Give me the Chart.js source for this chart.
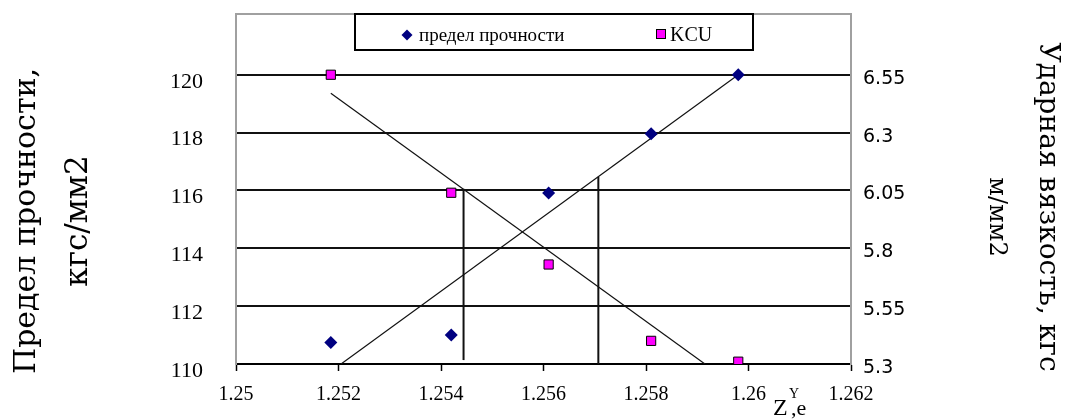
<!DOCTYPE html>
<html>
<head>
<meta charset="utf-8">
<script src="https://cdn.jsdelivr.net/npm/chart.js@4/dist/chart.umd.min.js"></script>
<style>
  html, body { margin: 0; padding: 0; background: #fff; }
  #wrap { width: 1065px; height: 419px; }
</style>
</head>
<body>
<div id="wrap"><canvas id="c" width="1065" height="419"></canvas></div>
<script>
// Z^Y,e of each specimen
const zValues = [1.25185, 1.2542, 1.2561, 1.2581, 1.2598];
// предел прочности, кгс/мм2
const strength = [110.74, 111.0, 115.91, 117.96, 120.0];
// ударная вязкость KCU, кгс·м/мм2
const kcu = [6.55, 6.04, 5.73, 5.40, 5.31];

// linear trend lines (end points)
const strengthTrendX = [1.25205, 1.2598];
const strengthTrendY = [110.0, 120.0];
const kcuTrendX = [1.25185, 1.25915];
const kcuTrendY = [6.47, 5.30];

// vertical guide lines
const guideKcuX = 1.25444;
const guideKcuY = [5.317, 6.057];
const guideStrengthX = 1.25707;
const guideStrengthY = [110.0, 116.47];

// axis ticks
const xTicks = [1.25, 1.252, 1.254, 1.256, 1.258, 1.26, 1.262];
const yTicks = [110, 112, 114, 116, 118, 120];
const y2Ticks = [5.3, 5.55, 5.8, 6.05, 6.3, 6.55];

const toPoints = (xs, ys) => xs.map((x, i) => ({ x: x, y: ys[i] }));
const vertical = (x, ys) => ys.map(y => ({ x: x, y: y }));

const serif = 'Liberation Serif, Times New Roman, serif';
const titleSerif = 'DejaVu Serif, serif';

// axis titles and legend drawn on top of the plot
const decor = {
  id: 'decor',
  afterDraw(chart) {
    const c = chart.ctx;
    const a = chart.chartArea;
    c.save();

    // top border of the plot area
    c.strokeStyle = '#a0a0a0';
    c.lineWidth = 2;
    c.beginPath();
    c.moveTo(a.left, a.top);
    c.lineTo(a.right, a.top);
    c.stroke();

    // legend box
    c.fillStyle = '#fff';
    c.fillRect(355, 14, 398, 36);
    c.strokeStyle = '#000';
    c.lineWidth = 2;
    c.strokeRect(355, 14, 398, 36);

    // legend: diamond
    c.fillStyle = '#000080';
    c.beginPath();
    c.moveTo(407, 29.5);
    c.lineTo(412.5, 35);
    c.lineTo(407, 40.5);
    c.lineTo(401.5, 35);
    c.closePath();
    c.fill();
    c.fillStyle = '#000';
    c.font = '19px ' + serif;
    c.textBaseline = 'middle';
    c.textAlign = 'left';
    c.fillText('предел прочности', 419, 36);

    // legend: square
    c.fillStyle = '#ff00ff';
    c.fillRect(656.5, 29.5, 9, 9);
    c.strokeStyle = '#000';
    c.lineWidth = 1;
    c.strokeRect(656.5, 29.5, 9, 9);
    c.fillStyle = '#000';
    c.font = '20px ' + serif;
    c.fillText('KCU', 670, 36);

    // left axis title
    c.textAlign = 'center';
    c.textBaseline = 'alphabetic';
    c.save();
    c.translate(35, 221);
    c.rotate(-Math.PI / 2);
    c.font = '30px ' + titleSerif;
    c.fillText('Предел прочности,', 0, 0);
    c.restore();
    c.save();
    c.translate(87, 221);
    c.rotate(-Math.PI / 2);
    c.font = '31px ' + titleSerif;
    c.fillText('кгс/мм2', 0, 0);
    c.restore();

    // right axis title
    c.save();
    c.translate(1040, 207);
    c.rotate(Math.PI / 2);
    c.font = '28px ' + titleSerif;
    c.fillText('Ударная вязкость, кгс', 0, 0);
    c.restore();
    c.save();
    c.translate(990, 217);
    c.rotate(Math.PI / 2);
    c.font = '24px ' + titleSerif;
    c.fillText('м/мм2', 0, 0);
    c.restore();

    // x axis title Z^Y,e
    c.textAlign = 'left';
    c.font = '24px ' + serif;
    c.fillText('Z', 773, 415);
    c.font = '14px ' + serif;
    c.fillText('Y', 789, 398);
    c.font = '22px ' + serif;
    c.fillText(',e', 791, 415);

    c.restore();
  }
};

new Chart(document.getElementById('c'), {
  type: 'scatter',
  data: {
    datasets: [
      {
        label: 'предел прочности',
        data: toPoints(zValues, strength),
        yAxisID: 'y',
        pointStyle: 'rectRot',
        pointRadius: 6.5,
        pointBackgroundColor: '#000080',
        pointBorderColor: '#000080',
        pointBorderWidth: 0,
        order: 0
      },
      {
        label: 'KCU',
        data: toPoints(zValues, kcu),
        yAxisID: 'y2',
        pointStyle: 'rect',
        pointRadius: 6.5,
        pointBackgroundColor: '#ff00ff',
        pointBorderColor: '#000',
        pointBorderWidth: 1,
        order: 0
      },
      {
        label: 'trend-strength',
        data: toPoints(strengthTrendX, strengthTrendY),
        yAxisID: 'y',
        showLine: true,
        borderColor: '#111',
        borderWidth: 1.2,
        pointRadius: 0,
        order: 2
      },
      {
        label: 'trend-kcu',
        data: toPoints(kcuTrendX, kcuTrendY),
        yAxisID: 'y2',
        showLine: true,
        borderColor: '#111',
        borderWidth: 1.2,
        pointRadius: 0,
        order: 2
      },
      {
        label: 'guide-kcu',
        data: vertical(guideKcuX, guideKcuY),
        yAxisID: 'y2',
        showLine: true,
        borderColor: '#111',
        borderWidth: 2,
        pointRadius: 0,
        order: 3
      },
      {
        label: 'guide-strength',
        data: vertical(guideStrengthX, guideStrengthY),
        yAxisID: 'y',
        showLine: true,
        borderColor: '#111',
        borderWidth: 2,
        pointRadius: 0,
        order: 3
      }
    ]
  },
  options: {
    responsive: false,
    devicePixelRatio: 1,
    animation: false,
    events: [],
    layout: { padding: { top: 14, left: 0, right: 0, bottom: 0 } },
    plugins: { legend: { display: false }, tooltip: { enabled: false } },
    scales: {
      x: {
        type: 'linear',
        position: 'bottom',
        min: 1.25,
        max: 1.262,
        afterBuildTicks: s => { s.ticks = xTicks.map(v => ({ value: v })); },
        afterFit: s => { s.height = 55; },
        ticks: {
          autoSkip: false,
          maxRotation: 0,
          padding: 12,
          color: '#000',
          font: { family: serif, size: 20 },
          callback: v => String(+v.toFixed(3))
        },
        grid: {
          drawOnChartArea: false,
          drawTicks: true,
          tickLength: 7,
          tickColor: '#000',
          tickWidth: 1.5
        },
        border: { color: '#000', width: 2 }
      },
      y: {
        type: 'linear',
        position: 'left',
        min: 110,
        max: 122.1,
        afterBuildTicks: s => { s.ticks = yTicks.map(v => ({ value: v })); },
        afterFit: s => { s.width = 236; s.paddingTop = 0; s.paddingBottom = 0; },
        ticks: {
          padding: 33,
          labelOffset: 7,
          color: '#000',
          font: { family: serif, size: 22 },
          callback: v => String(v)
        },
        grid: {
          drawTicks: false,
          color: '#111',
          lineWidth: 2
        },
        border: { color: '#a0a0a0', width: 2 }
      },
      y2: {
        type: 'linear',
        position: 'right',
        min: 5.3,
        max: 6.8125,
        afterBuildTicks: s => { s.ticks = y2Ticks.map(v => ({ value: v })); },
        afterFit: s => { s.width = 214; s.paddingTop = 0; s.paddingBottom = 0; },
        ticks: {
          padding: 12,
          labelOffset: 4,
          color: '#000',
          font: { family: 'DejaVu Sans, Verdana, sans-serif', size: 19 },
          callback: v => String(+v.toFixed(2))
        },
        grid: { drawOnChartArea: false, drawTicks: false },
        border: { color: '#a0a0a0', width: 2 }
      }
    }
  },
  plugins: [decor]
});
</script>
</body>
</html>
